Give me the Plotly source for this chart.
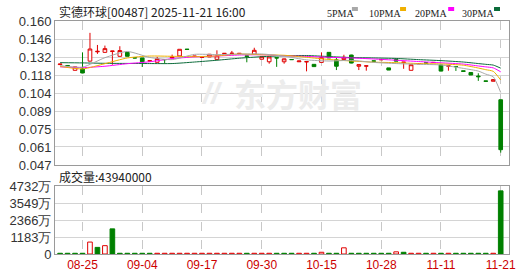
import plotly.graph_objects as go

# ---------------- data ----------------
idx = list(range(60))
opens  = [0.1258,0.1251,0.1213,0.1224,0.1285,0.1358,0.1354,0.1361,0.1323,0.1354,
          0.1312,0.1310,0.1285,0.1276,0.1298,0.1310,0.1326,0.1379,0.1322,0.1314,
          0.1318,0.1299,0.1344,0.1345,0.1344,0.1326,0.1339,0.1300,0.1280,0.1312,
          0.1280,0.1298,0.1280,0.1279,0.1260,0.1275,0.1354,0.1295,0.1297,0.1333,
          0.1245,0.1246,0.1287,0.1296,0.1232,0.1297,0.1275,0.1213,0.1264,0.1271,
          0.1274,0.1255,0.1246,0.1243,0.1209,0.1196,0.1168,0.1130,0.1127,0.0982]
highs  = [0.1263,0.1251,0.1240,0.1354,0.1507,0.1412,0.1407,0.1365,0.1402,0.1354,
          0.1314,0.1310,0.1290,0.1319,0.1298,0.1336,0.1378,0.1379,0.1325,0.1317,
          0.1339,0.1370,0.1347,0.1365,0.1346,0.1328,0.1390,0.1320,0.1318,0.1312,
          0.1305,0.1299,0.1286,0.1281,0.1260,0.1354,0.1354,0.1310,0.1335,0.1335,
          0.1258,0.1248,0.1288,0.1298,0.1232,0.1297,0.1277,0.1257,0.1266,0.1272,
          0.1276,0.1257,0.1248,0.1243,0.1209,0.1196,0.1190,0.1130,0.1142,0.0982]
lows   = [0.1258,0.1249,0.1213,0.1190,0.1283,0.1342,0.1352,0.1257,0.1320,0.1323,
          0.1308,0.1239,0.1283,0.1276,0.1265,0.1310,0.1326,0.1377,0.1320,0.1313,
          0.1318,0.1299,0.1344,0.1343,0.1344,0.1276,0.1339,0.1300,0.1265,0.1240,
          0.1265,0.1296,0.1280,0.1205,0.1242,0.1275,0.1310,0.1215,0.1295,0.1268,
          0.1215,0.1210,0.1284,0.1295,0.1215,0.1285,0.1225,0.1213,0.1264,0.1269,
          0.1274,0.1205,0.1210,0.1208,0.1205,0.1176,0.1130,0.1127,0.1127,0.0567]
closes = [0.1262,0.1249,0.1240,0.1192,0.1380,0.1362,0.1383,0.1364,0.1368,0.1323,
          0.1310,0.1280,0.1288,0.1305,0.1297,0.1316,0.1378,0.1377,0.1324,0.1316,
          0.1339,0.1326,0.1346,0.1347,0.1346,0.1323,0.1370,0.1320,0.1318,0.1310,
          0.1303,0.1297,0.1286,0.1281,0.1242,0.1313,0.1310,0.1245,0.1315,0.1270,
          0.1258,0.1248,0.1285,0.1297,0.1215,0.1285,0.1277,0.1257,0.1266,0.1270,
          0.1275,0.1207,0.1248,0.1242,0.1205,0.1176,0.1163,0.1127,0.1140,0.0590]

volumes = [500000,500000,500000,500000,8300000,4600000,5800000,17500000,500000,500000,
           500000,500000,500000,500000,500000,500000,500000,500000,500000,500000,
           500000,500000,500000,500000,500000,500000,500000,500000,500000,500000,
           500000,500000,500000,500000,500000,1200000,500000,500000,4300000,500000,
           500000,500000,500000,500000,500000,1500000,1200000,500000,500000,500000,
           500000,500000,500000,500000,500000,500000,500000,500000,500000,43940000]
vol_dir = ["d","d","d","d","u","d","u","d","d","d",
           "d","d","d","u","u","u","u","u","u","u",
           "u","u","u","u","u","d","u","u","u","d",
           "d","d","u","u","d","u","d","d","u","d",
           "d","d","d","d","d","u","d","u","u","d",
           "u","d","u","d","d","d","d","d","u","d"]

ma_idx = [0,3,6,9,12,15,18,21,24,27,30,33,36,39,42,45,48,51,54,56,57,58,59]
ma5  = [0.1250,0.1238,0.1312,0.1361,0.1314,0.1297,0.1338,0.1336,0.1340,0.1341,0.1324,0.1295,
        0.1286,0.1291,0.1275,0.1266,0.1260,0.1255,0.1228,0.1207,0.1183,0.1162,0.1039]
ma10 = [0.1244,0.1224,0.1265,0.1310,0.1325,0.1323,0.1320,0.1326,0.1341,0.1335,0.1331,0.1315,
        0.1298,0.1286,0.1277,0.1273,0.1266,0.1263,0.1253,0.1231,0.1218,0.1205,0.1137]
ma20 = [0.1240,0.1234,0.1245,0.1265,0.1280,0.1305,0.1318,0.1325,0.1333,0.1335,0.1327,0.1322,
        0.1315,0.1310,0.1302,0.1292,0.1282,0.1272,0.1262,0.1247,0.1240,0.1232,0.1201]
ma30 = [0.1273,0.1271,0.1268,0.1267,0.1266,0.1266,0.1278,0.1292,0.1308,0.1320,0.1327,0.1329,
        0.1321,0.1313,0.1310,0.1306,0.1297,0.1289,0.1278,0.1266,0.1260,0.1254,0.1230]

date_ticks = [3, 11, 19, 27, 35, 43, 51, 59]
date_labels = ["08-25", "09-04", "09-17", "09-30", "10-15", "10-28", "11-11", "11-21"]
price_ticks = [0.047, 0.061125, 0.07525, 0.089375, 0.1035, 0.117625, 0.13175, 0.145875, 0.160]
price_labels = ["0.047", "0.061", "0.075", "0.089", "0.104", "0.118", "0.132", "0.146", "0.160"]
vol_ticks = [0, 11830000, 23660000, 35490000, 47320000]
vol_labels = ["0", "1183万", "2366万", "3549万", "4732万"]

title_text = "实德环球[00487] 2025-11-21 16:00"
vol_text = "成交量:43940000"
ma_names = ["5PMA", "10PMA", "20PMA", "30PMA"]
ma_colors = ["#a8a8a8", "#f0b000", "#ff00ff", "#0b6b3a"]

# ---------------- styling ----------------
RED = "#e00000"
GREEN = "#008000"
GRID = "#d4d4d4"
FRAME = "#9a9a9a"
FONT = "Liberation Sans"

fig = go.Figure()

fig.add_trace(go.Candlestick(
    x=idx, open=opens, high=highs, low=lows, close=closes,
    increasing=dict(line=dict(color=RED, width=1), fillcolor="white"),
    decreasing=dict(line=dict(color=GREEN, width=1), fillcolor=GREEN),
    whiskerwidth=0, xaxis="x", yaxis="y", showlegend=False, hoverinfo="skip"))

for vals, col in [(ma30, ma_colors[3]), (ma20, ma_colors[2]), (ma10, ma_colors[1]), (ma5, ma_colors[0])]:
    fig.add_trace(go.Scatter(x=ma_idx, y=vals, mode="lines",
                             line=dict(color=col, width=1, shape="spline", smoothing=0.6),
                             xaxis="x", yaxis="y", showlegend=False, hoverinfo="skip"))

vfill = ["white" if d == "u" else GREEN for d in vol_dir]
vline = [RED if d == "u" else GREEN for d in vol_dir]
fig.add_trace(go.Bar(x=idx, y=volumes, marker=dict(color=vfill, line=dict(color=vline, width=1)),
                     width=0.62, xaxis="x2", yaxis="y2", showlegend=False, hoverinfo="skip"))

xcommon = dict(range=[-0.683, 60.11], tickvals=date_ticks, showgrid=True, gridcolor="#c8c8c8",
               griddash="dash", gridwidth=1, showline=True, linecolor=FRAME, mirror=True,
               zeroline=False, ticks="", fixedrange=True, automargin=False)

fig.update_layout(
    width=530, height=276,
    margin=dict(l=55, r=21, t=21, b=22),
    paper_bgcolor="white", plot_bgcolor="white",
    font=dict(family=FONT, size=12, color="#333333"),
    xaxis=dict(**xcommon, anchor="y", showticklabels=False, rangeslider=dict(visible=False)),
    xaxis2=dict(**xcommon, anchor="y2", ticktext=date_labels, showticklabels=True,
                tickfont=dict(color="#cc0000", size=12, family=FONT)),
    yaxis=dict(domain=[0.382, 1.0], range=[0.047, 0.160], tickvals=price_ticks, ticktext=price_labels,
               showgrid=True, gridcolor=GRID, showline=True, linecolor=FRAME, mirror=True,
               zeroline=False, ticks="", automargin=False, tickfont=dict(size=13, color="#333333")),
    yaxis2=dict(domain=[0.0, 0.2918], range=[0, 47320000], tickvals=vol_ticks, ticktext=vol_labels,
                showgrid=True, gridcolor=GRID, showline=True, linecolor=FRAME, mirror=True,
                zeroline=False, ticks="", automargin=False, tickfont=dict(size=13, color="#333333")),
    bargap=0.3,
)

annotations = [
    dict(text=title_text, xref="paper", yref="paper", x=0.004, y=1.0, xanchor="left", yanchor="bottom",
         showarrow=False, font=dict(family="Noto Sans CJK SC", size=12, color="#222222"), yshift=-1),
    dict(text=vol_text, xref="paper", yref="paper", x=0.004, y=0.2918, xanchor="left", yanchor="bottom",
         showarrow=False, font=dict(family="Noto Sans CJK SC", size=12, color="#222222"), yshift=-1),
    dict(text="<b>东方财富</b>", xref="paper", yref="paper", x=0.535, y=0.69, xanchor="center", yanchor="middle",
         showarrow=False, font=dict(family="Noto Sans CJK SC", size=32, color="#ececec")),
    dict(text="<b><i>//</i></b>", xref="paper", yref="paper", x=0.345, y=0.69, xanchor="center", yanchor="middle",
         showarrow=False, font=dict(family=FONT, size=30, color="#ececec")),
]
shapes = []
text_x = [0.595, 0.687, 0.789, 0.892]
mark_x = [0.654, 0.760, 0.866, 0.967]
for name, col, tx, mx in zip(ma_names, ma_colors, text_x, mark_x):
    annotations.append(dict(
        text=name, xref="paper", yref="paper", x=tx, y=1.0, xanchor="left", yanchor="bottom", yshift=0,
        showarrow=False, font=dict(family="Liberation Serif", size=10, color="#222222")))
    shapes.append(dict(type="rect", xref="paper", yref="paper", x0=mx, x1=mx + 0.0132,
                       y0=1.043, y1=1.060, fillcolor=col, line=dict(width=0)))
fig.update_layout(annotations=annotations, shapes=shapes)

fig.write_html("out.html")
